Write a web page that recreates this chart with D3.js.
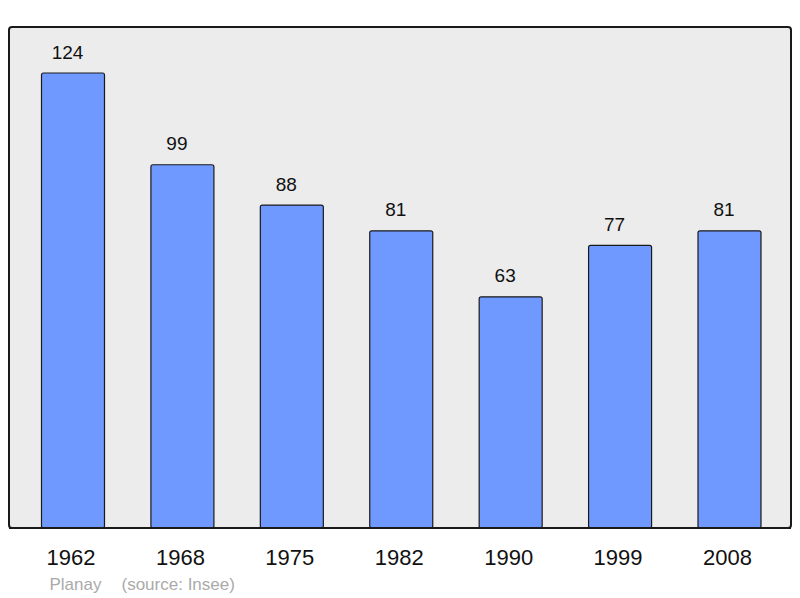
<!DOCTYPE html>
<html><head><meta charset="utf-8">
<script src="https://cdn.jsdelivr.net/npm/d3@7"></script>
<style>body{margin:0;background:#fff}svg{display:block}</style>
</head><body>
<svg id="c" width="800" height="598"></svg>
<script>
const years = ["1962","1968","1975","1982","1990","1999","2008"];
const values = [124, 99, 88, 81, 63, 77, 81];
const place = "Planay";
const source = "(source: Insee)";

const svg = d3.select("#c");
const font = "'Liberation Sans', Arial, sans-serif";

svg.append("rect").attr("x",9).attr("y",27).attr("width",782).attr("height",501)
  .attr("rx",3).attr("fill","#ececec").attr("stroke","#1a1a1a").attr("stroke-width",2);

const x = d3.scalePoint().domain(years).range([73, 729.5]);
const bw = 63;
const y = d3.scaleLinear().domain([0,124]).range([528,73]);

svg.selectAll("rect.bar").data(years).enter().append("rect").attr("class","bar")
  .attr("x", d=>x(d)-bw/2).attr("y",(d,i)=>y(values[i]))
  .attr("width",bw).attr("height",(d,i)=>y(0)-y(values[i]))
  .attr("rx",2).attr("fill","#7099ff").attr("stroke","#1a1a1a").attr("stroke-width",1.2);

svg.selectAll("text.val").data(years).enter().append("text").attr("class","val")
  .attr("x",d=>x(d)-5.5).attr("y",(d,i)=>y(values[i])-14.5)
  .attr("text-anchor","middle").attr("font-family",font).attr("font-size",19).attr("fill","#111")
  .text((d,i)=>values[i]);

svg.append("line").attr("x1",9).attr("x2",791).attr("y1",528).attr("y2",528)
  .attr("stroke","#1a1a1a").attr("stroke-width",2);

svg.selectAll("text.yr").data(years).enter().append("text").attr("class","yr")
  .attr("x",d=>x(d)-2).attr("y",564.5)
  .attr("text-anchor","middle").attr("font-family",font).attr("font-size",22).attr("fill","#111")
  .text(d=>d);

svg.append("text").attr("x",49.5).attr("y",590).attr("font-family",font).attr("font-size",17)
  .attr("fill","#aaa").text(place);
svg.append("text").attr("x",121.5).attr("y",590).attr("font-family",font).attr("font-size",17)
  .attr("fill","#aaa").text(source);
</script>
</body></html>
